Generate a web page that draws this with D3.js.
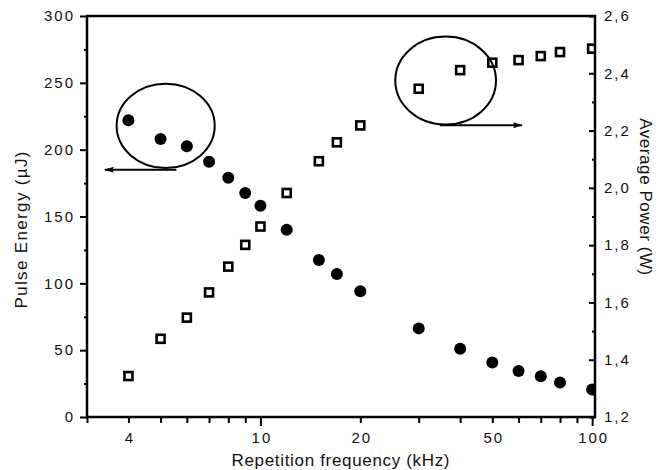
<!DOCTYPE html>
<html>
<head>
<meta charset="utf-8">
<script src="https://cdn.jsdelivr.net/npm/d3@7"></script>
<style>
  html, body { margin: 0; padding: 0; background: #fff; }
  svg { display: block; font-family: "Liberation Sans", Arial, sans-serif; }
  .tick text { font-size: 15px; letter-spacing: 2px; fill: #111; }
  .title { font-size: 17px; fill: #111; }
</style>
</head>
<body>
<svg id="chart" width="669" height="470"></svg>
<script>
// Repetition frequency (kHz)
const freq = [4, 5, 6, 7, 8, 9, 10, 12, 15, 17, 20, 30, 40, 50, 60, 70, 80, 100];
// Pulse energy (µJ), left axis
const energy = [222, 208, 202.5, 191, 179, 167.5, 158, 140, 117.5, 107, 94, 66.3, 51, 40.8, 34.5, 30.5, 25.8, 20.5];
// Average power (W), right axis
const power = [1.343, 1.473, 1.547, 1.635, 1.725, 1.801, 1.865, 1.982, 2.093, 2.159, 2.218, 2.346, 2.411, 2.437, 2.446, 2.46, 2.474, 2.486];

// Tick values
const xLabelTicks = [4, 10, 20, 50, 100];
const xMajorTicks = [10, 100];
const xMinorTicks = [3, 4, 5, 6, 7, 8, 9, 20, 30, 40, 50, 60, 70, 80, 90];
const leftMajorTicks = [0, 50, 100, 150, 200, 250, 300];
const leftMinorTicks = [25, 75, 125, 175, 225, 275];
const rightMajorTicks = [1.2, 1.4, 1.6, 1.8, 2.0, 2.2, 2.4, 2.6];
const rightMinorTicks = [1.3, 1.5, 1.7, 1.9, 2.1, 2.3, 2.5];

// Callouts in data units: oval around a group of points and arrow toward its axis
const energyOval = { f: [3.685, 7.28], v: [186.3, 249.3] };
const energyArrow = { f: [5.58, 3.40], v: 185 };
const powerOval = { f: [25.5, 51.3], v: [2.221, 2.528] };
const powerArrow = { f: [34.8, 61.4], v: 2.2185 };

const svg = d3.select("#chart");
const W = 669, H = 470;
const m = { left: 87, right: 74, top: 16, bottom: 53 };
const x0 = m.left, x1 = W - m.right, y0 = H - m.bottom, y1 = m.top;

const x = d3.scaleLog().domain([3, 102]).range([x0, x1]);
const yL = d3.scaleLinear().domain([0, 300]).range([y0, y1]);
const yR = d3.scaleLinear().domain([1.2, 2.6]).range([y0, y1]);

const fmtComma = d => d3.format(".1f")(d).replace(".", ",");

svg.append("defs").append("clipPath").attr("id", "plot")
  .append("rect").attr("x", x0).attr("y", y1).attr("width", x1 - x0).attr("height", y0 - y1);

svg.select("defs").append("marker")
  .attr("id", "head").attr("viewBox", "0 0 10 6").attr("refX", 9).attr("refY", 3)
  .attr("markerWidth", 10).attr("markerHeight", 6).attr("markerUnits", "userSpaceOnUse")
  .attr("orient", "auto")
  .append("path").attr("d", "M0,0 L10,3 L0,6 L2,3 Z").attr("fill", "#000");

// Markers
const pts = svg.append("g").attr("clip-path", "url(#plot)");
const sq = 8;
pts.selectAll("rect.pw").data(freq).join("rect").attr("class", "pw")
  .attr("x", (d) => x(d) - sq / 2)
  .attr("y", (d, i) => yR(power[i]) - sq / 2)
  .attr("width", sq).attr("height", sq)
  .attr("fill", "#fff").attr("stroke", "#000").attr("stroke-width", 2.6);
pts.selectAll("circle.en").data(freq).join("circle").attr("class", "en")
  .attr("cx", (d) => x(d))
  .attr("cy", (d, i) => yL(energy[i]))
  .attr("r", 6).attr("fill", "#000");

// Callouts
function oval(o, ys) {
  const cx = (x(o.f[0]) + x(o.f[1])) / 2, cy = (ys(o.v[0]) + ys(o.v[1])) / 2;
  svg.append("ellipse").attr("cx", cx).attr("cy", cy)
    .attr("rx", Math.abs(x(o.f[1]) - x(o.f[0])) / 2)
    .attr("ry", Math.abs(ys(o.v[1]) - ys(o.v[0])) / 2)
    .attr("fill", "none").attr("stroke", "#000").attr("stroke-width", 2);
}
function arrow(a, ys) {
  svg.append("line").attr("x1", x(a.f[0])).attr("x2", x(a.f[1]))
    .attr("y1", ys(a.v)).attr("y2", ys(a.v))
    .attr("stroke", "#000").attr("stroke-width", 2).attr("marker-end", "url(#head)");
}
oval(energyOval, yL); arrow(energyArrow, yL);
oval(powerOval, yR); arrow(powerArrow, yR);

// Axes
function styleAxis(g) {
  g.select(".domain").remove();
  g.selectAll(".tick line").attr("stroke", "#000").attr("stroke-width", 2);
}
svg.append("g").attr("transform", `translate(0,${y0})`)
  .call(d3.axisBottom(x).tickValues(xMinorTicks).tickSize(6).tickFormat(""))
  .call(styleAxis);
svg.append("g").attr("transform", `translate(0,${y0})`)
  .call(d3.axisBottom(x).tickValues(xMajorTicks).tickSize(9).tickFormat(""))
  .call(styleAxis);
svg.append("g").attr("transform", `translate(0,${y0})`)
  .call(d3.axisBottom(x).tickValues(xLabelTicks).tickSize(0).tickPadding(15).tickFormat(d3.format("d")))
  .call(styleAxis)
  .selectAll(".tick text").attr("dx", "1px");

svg.append("g").attr("transform", `translate(${x0},0)`)
  .call(d3.axisLeft(yL).tickValues(leftMinorTicks).tickSize(3).tickFormat(""))
  .call(styleAxis);
svg.append("g").attr("transform", `translate(${x0},0)`)
  .call(d3.axisLeft(yL).tickValues(leftMajorTicks).tickSize(7).tickPadding(5).tickFormat(d3.format("d")))
  .call(styleAxis);

svg.append("g").attr("transform", `translate(${x1},0)`)
  .call(d3.axisRight(yR).tickValues(rightMinorTicks).tickSize(-3).tickFormat(""))
  .call(styleAxis);
svg.append("g").attr("transform", `translate(${x1},0)`)
  .call(d3.axisRight(yR).tickValues(rightMajorTicks).tickSize(-6).tickPadding(9).tickFormat(fmtComma))
  .call(styleAxis);

// Frame
svg.append("path")
  .attr("d", `M${x0},${y1} H${x1} V${y0} H${x0} Z`)
  .attr("fill", "none").attr("stroke", "#000").attr("stroke-width", 2.5);

// Titles
svg.append("text").attr("class", "title")
  .attr("x", (x0 + x1) / 2 - 0.5).attr("y", 466)
  .attr("text-anchor", "middle").attr("textLength", 218).attr("lengthAdjust", "spacing")
  .text("Repetition frequency (kHz)");
svg.append("text").attr("class", "title")
  .attr("transform", `translate(26.5,230) rotate(-90)`)
  .attr("text-anchor", "middle").attr("textLength", 157).attr("lengthAdjust", "spacing")
  .text("Pulse Energy (µJ)");
svg.append("text").attr("class", "title")
  .attr("transform", `translate(640,196.7) rotate(90)`)
  .attr("text-anchor", "middle").attr("textLength", 157).attr("lengthAdjust", "spacing")
  .text("Average Power (W)");
</script>
</body>
</html>
